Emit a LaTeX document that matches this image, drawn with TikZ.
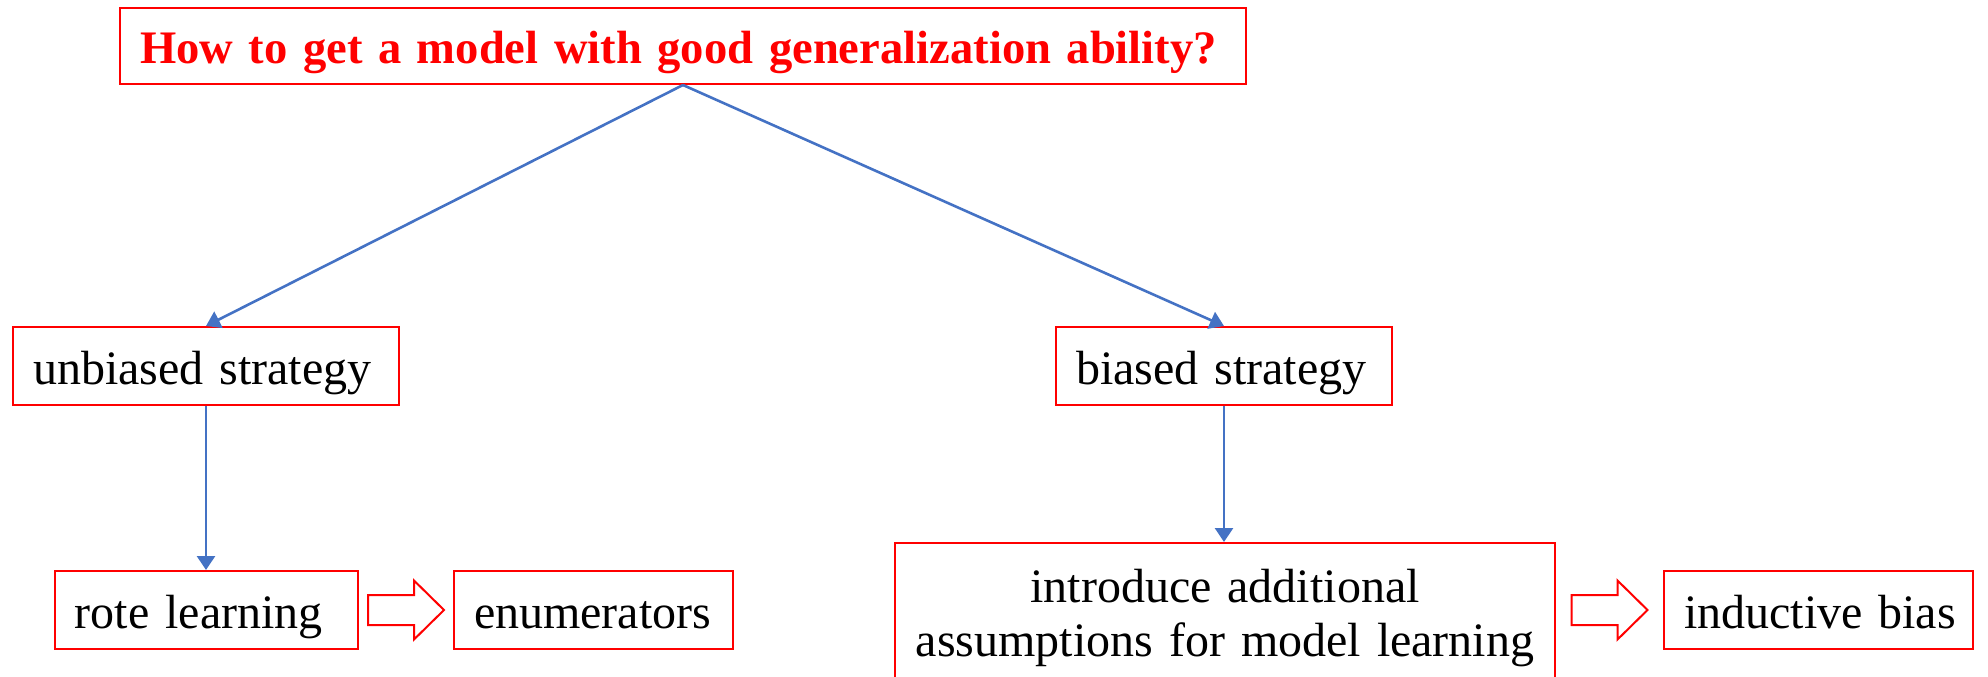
\documentclass[tikz,border=0pt]{standalone}
\usepackage{fontspec}
\setmainfont{Liberation Serif}
\usepackage{tikz}
\usetikzlibrary{calc,arrows.meta,positioning}
\definecolor{linkblue}{HTML}{4472C4}
\tikzset{
    oneline/.style={
    align=left,execute at begin node=\hbox\bgroup,execute at end node=\egroup,
    text height=18pt,text depth=0pt
    },
    question/.style={
    rectangle,draw=red,line width=1pt,text=red,font=\fontsize{23.3}{27}\selectfont\bfseries,
    inner xsep=10pt,inner ysep=0pt,minimum height=38pt,oneline,text height=17.5pt
    },
    strategy/.style={
    rectangle,draw=red,line width=1pt,font=\fontsize{24}{27}\selectfont,
    inner xsep=10pt,inner ysep=0pt,minimum height=39pt
    },
    hollowarrow/.style={
    draw=red,fill=white,line width=1pt,line join=miter
    },
    link/.style={
    linkblue,line width=1.3pt,-{Triangle[length=7pt,width=9pt]}
    },
}

\begin{document}
\begin{tikzpicture}[x=0.5pt,y=-0.5pt]
   \useasboundingbox (0,0) rectangle (1988,676);
   \node[question,text width=543pt] (q) at (683,46) {How to get a model with good generalization ability?};
   \node[strategy,oneline,text width=173pt] (unb) at (206,366) {unbiased strategy};
   \node[strategy,oneline,text width=148pt] (bia) at (1224,366) {biased strategy};
   \node[strategy,oneline,text width=131.5pt] (rote) at (206.5,610) {rote learning};
   \node[strategy,oneline,text width=119.5pt] (enum) at (593.5,610) {enumerators};
   \node[strategy,oneline,text width=134.5pt] (ind) at (1818.5,610) {inductive bias};
   \node[strategy,text width=310pt,align=center,minimum height=75pt,anchor=north] (intro) at (1225,542) {introduce additional\\assumptions for model learning};
   \coordinate (m1) at ($(rote.east)!0.5!(enum.west)$);
   \coordinate (m2) at ($(intro.east |- ind.west)!0.5!(ind.west)$);

  \path[link]
    (q.south) edge (unb.north)
              edge (bia.north)
    (unb.south) edge (unb.south |- rote.north)
    (bia.south) edge (bia.south |- intro.north);

  % hollow block arrows
  \draw[hollowarrow] (m1) ++(-38,-15) -- ++(46,0) -- ++(0,-14.5) -- ++(30,29.5) -- ++(-30,29.5) -- ++(0,-14.5) -- ++(-46,0) -- cycle;
  \draw[hollowarrow] (m2) ++(-38,-15) -- ++(46,0) -- ++(0,-14.5) -- ++(30,29.5) -- ++(-30,29.5) -- ++(0,-14.5) -- ++(-46,0) -- cycle;
\end{tikzpicture}
\end{document}
